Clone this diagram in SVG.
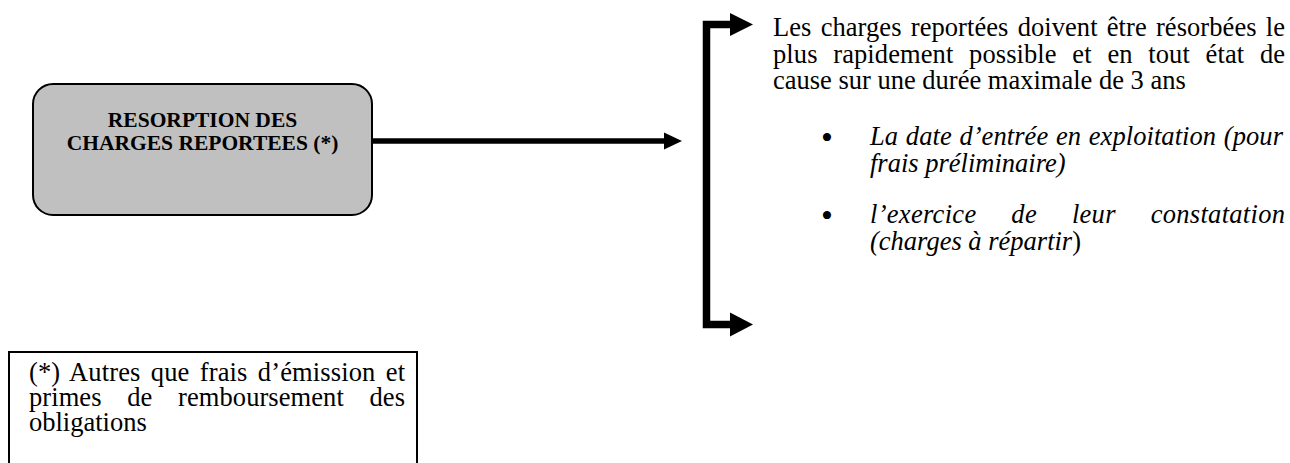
<svg xmlns="http://www.w3.org/2000/svg" width="1290" height="463" viewBox="0 0 1290 463">
<style>
.t{font-family:"Liberation Serif","Times New Roman",serif;font-size:26.5px;fill:#000}
.i{font-style:italic}
.bu{font-family:"Liberation Serif","Times New Roman",serif;font-size:34px;fill:#000;text-anchor:middle}
.b{font-family:"Liberation Serif","Times New Roman",serif;font-size:21.5px;font-weight:bold;fill:#000;text-anchor:middle}
.ln{fill:none;stroke:#000;stroke-linejoin:miter}
</style>
<rect width="1290" height="463" fill="#fff"/>
<g id="node-resorption">
<rect x="33" y="84" width="339" height="131" rx="20" ry="20" fill="#c0c0c0" stroke="#000" stroke-width="2"/>
<text class="b" x="202.5" y="127">RESORPTION DES</text>
<text class="b" x="202.5" y="150">CHARGES REPORTEES (*)</text>
</g>
<g id="connectors">
<line class="ln" x1="372" y1="141" x2="666" y2="141" stroke-width="5.5"/>
<polygon points="664,132.5 682,141 664,149.5" fill="#000"/>
<path class="ln" d="M731 24.5 H706.5 V324.5 H731" stroke-width="7.5"/>
<polygon points="730,13 753,24.5 730,36" fill="#000"/>
<polygon points="730,312.5 753,324.5 730,336.5" fill="#000"/>
</g>
<g id="node-text">
<text class="t" x="773" y="35.5" word-spacing="2.5" textLength="512" lengthAdjust="spacing">Les charges reportées doivent être résorbées le</text>
<text class="t" x="773" y="62.5" word-spacing="9" textLength="512" lengthAdjust="spacing">plus rapidement possible et en tout état de</text>
<text class="t" x="773" y="89">cause sur une durée maximale de 3 ans</text>
<text class="bu" x="827" y="149">•</text>
<text class="t i" x="870" y="145" word-spacing="1" textLength="413" lengthAdjust="spacing">La date d’entrée en exploitation (pour</text>
<text class="t i" x="870" y="172">frais préliminaire)</text>
<text class="bu" x="827" y="227">•</text>
<text class="t i" x="870" y="223" word-spacing="28" textLength="415" lengthAdjust="spacing">l’exercice de leur constatation</text>
<text class="t" x="870" y="250"><tspan class="i">(charges à répartir</tspan>)</text>
</g>
<g id="node-footnote">
<rect x="9" y="352" width="408" height="130" fill="none" stroke="#000" stroke-width="2"/>
<text class="t" x="29" y="381" word-spacing="3.5" textLength="376" lengthAdjust="spacing">(*) Autres que frais d’émission et</text>
<text class="t" x="29" y="406" word-spacing="19" textLength="376" lengthAdjust="spacing">primes de remboursement des</text>
<text class="t" x="29" y="431">obligations</text>
</g>
</svg>
